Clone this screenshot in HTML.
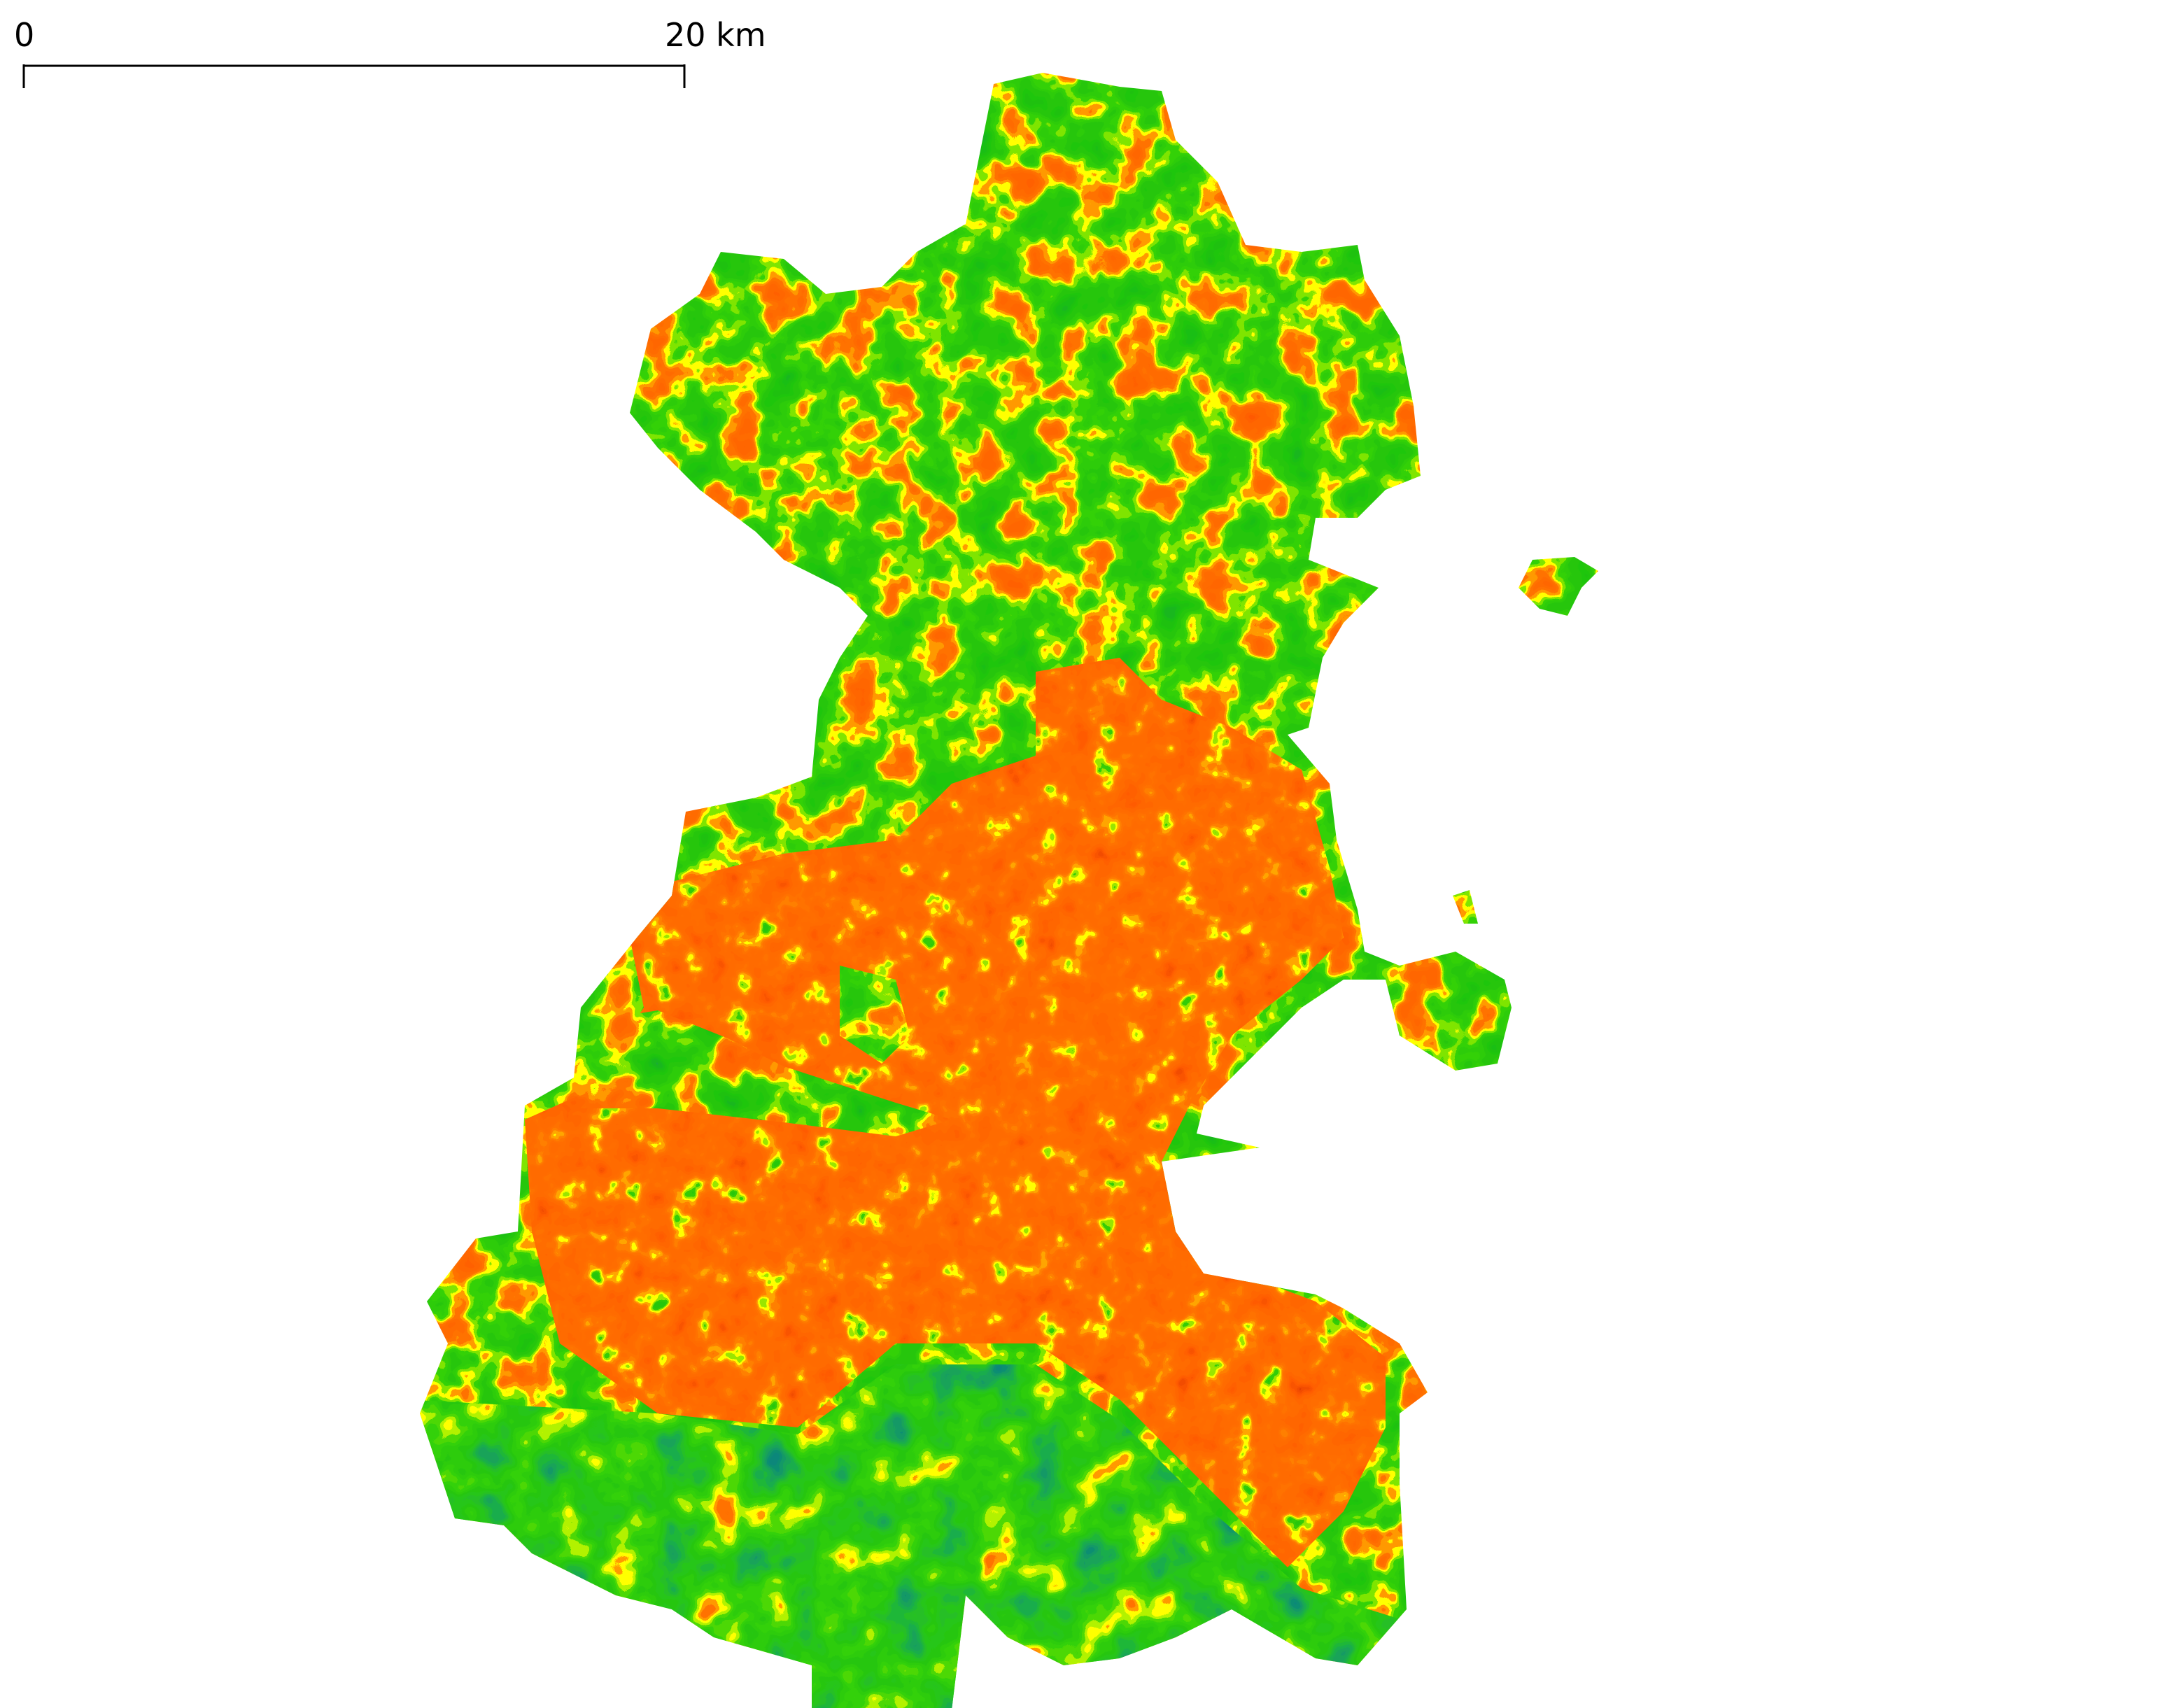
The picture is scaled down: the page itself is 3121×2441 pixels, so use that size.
<!DOCTYPE html>
<html><head><meta charset="utf-8"><style>
html,body{margin:0;padding:0;background:#fff;width:3121px;height:2441px;overflow:hidden}
svg{display:block}
filter{color-interpolation-filters:sRGB}
</style></head><body>
<svg width="3121" height="2441" viewBox="0 0 1560.5 1220.5" xmlns="http://www.w3.org/2000/svg">
<defs>
<filter id="mottle" x="0" y="0" width="100%" height="100%" color-interpolation-filters="sRGB">
<feTurbulence type="fractalNoise" baseFrequency="0.035" numOctaves="3" seed="4"/>
<feColorMatrix type="matrix" values="1 0 0 0 0 1 0 0 0 0 1 0 0 0 0 0 0 0 0 1"/>
<feComponentTransfer>
<feFuncR type="discrete" tableValues="0.1 0.1 0.1 0.1 0.12 0.12 0.15 0.15 0.18 0.2 0.5 1 1 1 1 1 1 1 1 0.95"/>
<feFuncG type="discrete" tableValues="0.65 0.68 0.72 0.75 0.76 0.78 0.78 0.78 0.8 0.82 0.9 1 0.6 0.45 0.42 0.4 0.4 0.38 0.35 0.3"/>
<feFuncB type="discrete" tableValues="0.25 0.2 0.12 0.08 0.06 0.05 0.05 0.05 0.04 0.03 0 0 0 0 0 0 0 0 0 0"/>
<feFuncA type="linear" slope="0" intercept="1"/>
</feComponentTransfer>
</filter>
<filter id="urban" x="0" y="0" width="100%" height="100%" color-interpolation-filters="sRGB">
<feTurbulence type="fractalNoise" baseFrequency="0.05" numOctaves="3" seed="9"/>
<feColorMatrix type="matrix" values="1 0 0 0 0 1 0 0 0 0 1 0 0 0 0 0 0 0 0 1"/>
<feComponentTransfer>
<feFuncR type="discrete" tableValues="0.15 0.15 0.15 0.2 0.6 1 1 1 1 1 1 1 1 1 1 1 0.98 0.95 0.9 0.85"/>
<feFuncG type="discrete" tableValues="0.78 0.78 0.78 0.8 0.9 1 0.65 0.5 0.45 0.43 0.42 0.42 0.4 0.4 0.38 0.36 0.33 0.3 0.25 0.2"/>
<feFuncB type="discrete" tableValues="0.05 0.05 0.05 0.03 0 0 0 0 0 0 0 0 0 0 0 0 0 0 0 0"/>
<feFuncA type="linear" slope="0" intercept="1"/>
</feComponentTransfer>
</filter>
<filter id="rural" x="0" y="0" width="100%" height="100%" color-interpolation-filters="sRGB">
<feTurbulence type="fractalNoise" baseFrequency="0.03" numOctaves="3" seed="2"/>
<feColorMatrix type="matrix" values="1 0 0 0 0 1 0 0 0 0 1 0 0 0 0 0 0 0 0 1"/>
<feComponentTransfer>
<feFuncR type="discrete" tableValues="0.05 0.05 0.05 0.08 0.1 0.1 0.12 0.15 0.15 0.15 0.18 0.2 0.3 0.7 1 1 1 1 1 1"/>
<feFuncG type="discrete" tableValues="0.5 0.53 0.56 0.6 0.64 0.68 0.72 0.75 0.78 0.78 0.8 0.82 0.85 0.95 1 0.6 0.45 0.42 0.4 0.4"/>
<feFuncB type="discrete" tableValues="0.5 0.48 0.45 0.4 0.35 0.3 0.22 0.15 0.1 0.06 0.05 0.04 0.02 0 0 0 0 0 0 0"/>
<feFuncA type="linear" slope="0" intercept="1"/>
</feComponentTransfer>
</filter>
<clipPath id="land">
<path d="M710,60 L745,52 800,62 830,65 840,100 870,130 890,175 930,180 970,175 975,200 1000,240 1010,290 1015,340 990,350 970,370 940,370 935,400 985,420 960,445 945,470 935,520 920,525 950,560 955,600 970,650 975,680 1000,690 1040,680 1075,700 1080,720 1070,760 1040,765 1000,740 990,700 960,700 930,720 890,760 860,790 855,810 900,820 830,830 840,880 860,910 940,925 960,935 1000,960 1020,995 1000,1010 1000,1060 1005,1150 970,1190 940,1185 880,1150 840,1170 800,1185 760,1190 720,1170 690,1140 680,1222 580,1225 580,1190 510,1170 480,1150 440,1140 380,1110 360,1090 325,1085 300,1010 320,960 305,930 340,885 370,880 375,790 410,770 415,720 455,670 480,640 490,580 540,570 580,555 585,500 600,470 620,440 600,420 560,400 540,380 500,350 470,320 450,295 465,235 500,210 515,180 560,185 590,210 630,205 655,180 690,160 700,110 Z"/>
<path d="M1085,420 L1095,400 1125,398 1142,408 1130,420 1120,440 1100,435 Z"/>
<path d="M1038,640 L1050,636 1056,660 1046,660 Z"/>
</clipPath>
<clipPath id="city">
<path d="M740,480 L800,470 830,500 880,520 930,550 950,620 960,670 930,700 880,740 850,790 830,830 860,900 940,930 990,970 990,1020 960,1080 920,1120 860,1060 800,1000 740,960 640,960 570,1020 470,1010 400,960 380,880 375,800 420,780 460,720 450,670 480,630 560,610 640,600 680,560 740,540 Z"/>
</clipPath>
<clipPath id="parks">
<path d="M420,730 L470,722 520,742 560,762 640,788 680,800 640,812 560,802 470,792 412,792 Z"/>
<path d="M600,690 L640,700 650,740 630,760 600,740 Z"/>
</clipPath>
<clipPath id="south">
<path d="M290,1000 L470,1010 570,1025 640,975 740,975 800,1015 860,1075 930,1135 1010,1160 1010,1230 280,1230 Z"/>
</clipPath>
</defs>
<g clip-path="url(#land)">
<rect x="280" y="40" width="880" height="1190" filter="url(#mottle)"/>
<g clip-path="url(#city)">
<rect x="360" y="460" width="660" height="680" filter="url(#urban)"/>
</g>
<g clip-path="url(#parks)">
<rect x="280" y="40" width="880" height="1190" filter="url(#mottle)"/>
</g>
<g clip-path="url(#south)">
<rect x="280" y="960" width="760" height="270" filter="url(#rural)"/>
</g>
</g>
<g>
<line x1="17" y1="47" x2="489" y2="47" stroke="#000" stroke-width="1.5"/>
<line x1="17" y1="46" x2="17" y2="63" stroke="#000" stroke-width="1.5"/>
<line x1="489" y1="46" x2="489" y2="63" stroke="#000" stroke-width="1.5"/>
<text x="10" y="33" font-family="DejaVu Sans, Liberation Sans, sans-serif" font-size="23" fill="#000">0</text>
<text x="475" y="33" font-family="DejaVu Sans, Liberation Sans, sans-serif" font-size="23" fill="#000">20 km</text>
</g>
</svg>
</body></html>
